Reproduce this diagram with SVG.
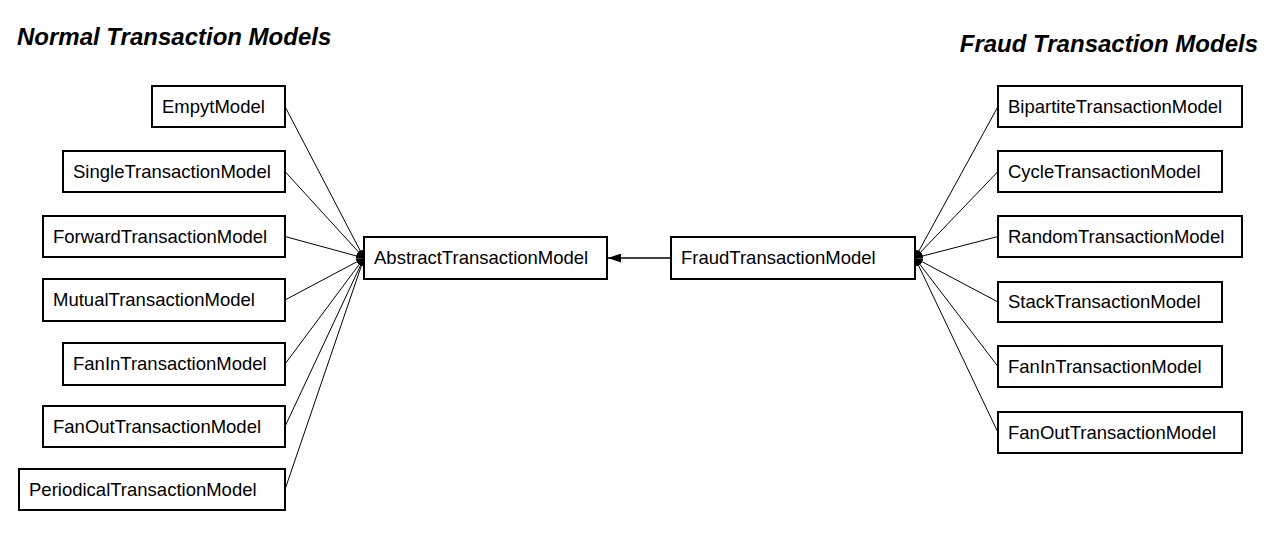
<svg xmlns="http://www.w3.org/2000/svg" width="1288" height="549" viewBox="0 0 1288 549">
<defs>
<style>
.box{fill:#fff;stroke:#000;stroke-width:2}
.lbl{font-family:"Liberation Sans",Arial,sans-serif;font-size:18.5px;fill:#000}
.title{font-family:"Liberation Sans",Arial,sans-serif;font-size:24px;font-weight:bold;font-style:italic;fill:#000}
.edge{stroke:#000;stroke-width:1;fill:none}
.main{stroke:#000;stroke-width:1.5;fill:none}
</style>
<marker id="ah" viewBox="0 0 8 6" refX="8" refY="3" markerWidth="8" markerHeight="6" markerUnits="userSpaceOnUse" orient="auto">
<path d="M0,0 L8,3 L0,6 z" fill="#000"/>
</marker>
<marker id="ah2" viewBox="0 0 13 9" refX="13" refY="4.5" markerWidth="13" markerHeight="9" markerUnits="userSpaceOnUse" orient="auto">
<path d="M0,0 L13,4.5 L0,9 z" fill="#000"/>
</marker>
</defs>
<rect width="1288" height="549" fill="#fff"/>
<text class="title" x="17" y="45">Normal Transaction Models</text>
<text class="title" x="1258" y="52" text-anchor="end">Fraud Transaction Models</text>

<g id="connectors">
<line class="edge" x1="285" y1="106.5" x2="364" y2="258" marker-end="url(#ah)"/>
<line class="edge" x1="285" y1="171.5" x2="364" y2="258" marker-end="url(#ah)"/>
<line class="edge" x1="285" y1="236.5" x2="364" y2="258" marker-end="url(#ah)"/>
<line class="edge" x1="285" y1="300" x2="364" y2="258" marker-end="url(#ah)"/>
<line class="edge" x1="285" y1="364" x2="364" y2="258" marker-end="url(#ah)"/>
<line class="edge" x1="285" y1="426.5" x2="364" y2="258" marker-end="url(#ah)"/>
<line class="edge" x1="285" y1="489.5" x2="364" y2="258" marker-end="url(#ah)"/>
<line class="edge" x1="998" y1="106.5" x2="915" y2="258" marker-end="url(#ah)"/>
<line class="edge" x1="998" y1="171.5" x2="915" y2="258" marker-end="url(#ah)"/>
<line class="edge" x1="998" y1="236.5" x2="915" y2="258" marker-end="url(#ah)"/>
<line class="edge" x1="998" y1="302" x2="915" y2="258" marker-end="url(#ah)"/>
<line class="edge" x1="998" y1="366.5" x2="915" y2="258" marker-end="url(#ah)"/>
<line class="edge" x1="998" y1="432.5" x2="915" y2="258" marker-end="url(#ah)"/>
<line class="main" x1="671" y1="258" x2="608" y2="258" marker-end="url(#ah2)"/>
</g>

<g id="n-empyt"><rect class="box" x="152" y="86" width="133" height="41"/><text class="lbl" x="162" y="113">EmpytModel</text></g>
<g id="n-single"><rect class="box" x="63" y="151" width="222" height="41"/><text class="lbl" x="73" y="178">SingleTransactionModel</text></g>
<g id="n-forward"><rect class="box" x="43" y="216" width="242" height="41"/><text class="lbl" x="53" y="243">ForwardTransactionModel</text></g>
<g id="n-mutual"><rect class="box" x="43" y="279" width="242" height="42"/><text class="lbl" x="53" y="306">MutualTransactionModel</text></g>
<g id="n-fanin-l"><rect class="box" x="63" y="343" width="222" height="42"/><text class="lbl" x="73" y="370">FanInTransactionModel</text></g>
<g id="n-fanout-l"><rect class="box" x="43" y="406" width="242" height="41"/><text class="lbl" x="53" y="433">FanOutTransactionModel</text></g>
<g id="n-periodical"><rect class="box" x="19" y="469" width="266" height="41"/><text class="lbl" x="29" y="496">PeriodicalTransactionModel</text></g>

<g id="n-abstract"><rect class="box" x="364" y="237" width="243" height="42"/><text class="lbl" x="374" y="264">AbstractTransactionModel</text></g>
<g id="n-fraud"><rect class="box" x="671" y="237" width="244" height="42"/><text class="lbl" x="681" y="264">FraudTransactionModel</text></g>

<g id="n-bipartite"><rect class="box" x="998" y="86" width="244" height="41"/><text class="lbl" x="1008" y="113">BipartiteTransactionModel</text></g>
<g id="n-cycle"><rect class="box" x="998" y="151" width="224" height="41"/><text class="lbl" x="1008" y="178">CycleTransactionModel</text></g>
<g id="n-random"><rect class="box" x="998" y="216" width="244" height="41"/><text class="lbl" x="1008" y="243">RandomTransactionModel</text></g>
<g id="n-stack"><rect class="box" x="998" y="282" width="224" height="40"/><text class="lbl" x="1008" y="308">StackTransactionModel</text></g>
<g id="n-fanin-r"><rect class="box" x="998" y="346" width="224" height="41"/><text class="lbl" x="1008" y="373">FanInTransactionModel</text></g>
<g id="n-fanout-r"><rect class="box" x="998" y="412" width="244" height="41"/><text class="lbl" x="1008" y="439">FanOutTransactionModel</text></g>
</svg>
